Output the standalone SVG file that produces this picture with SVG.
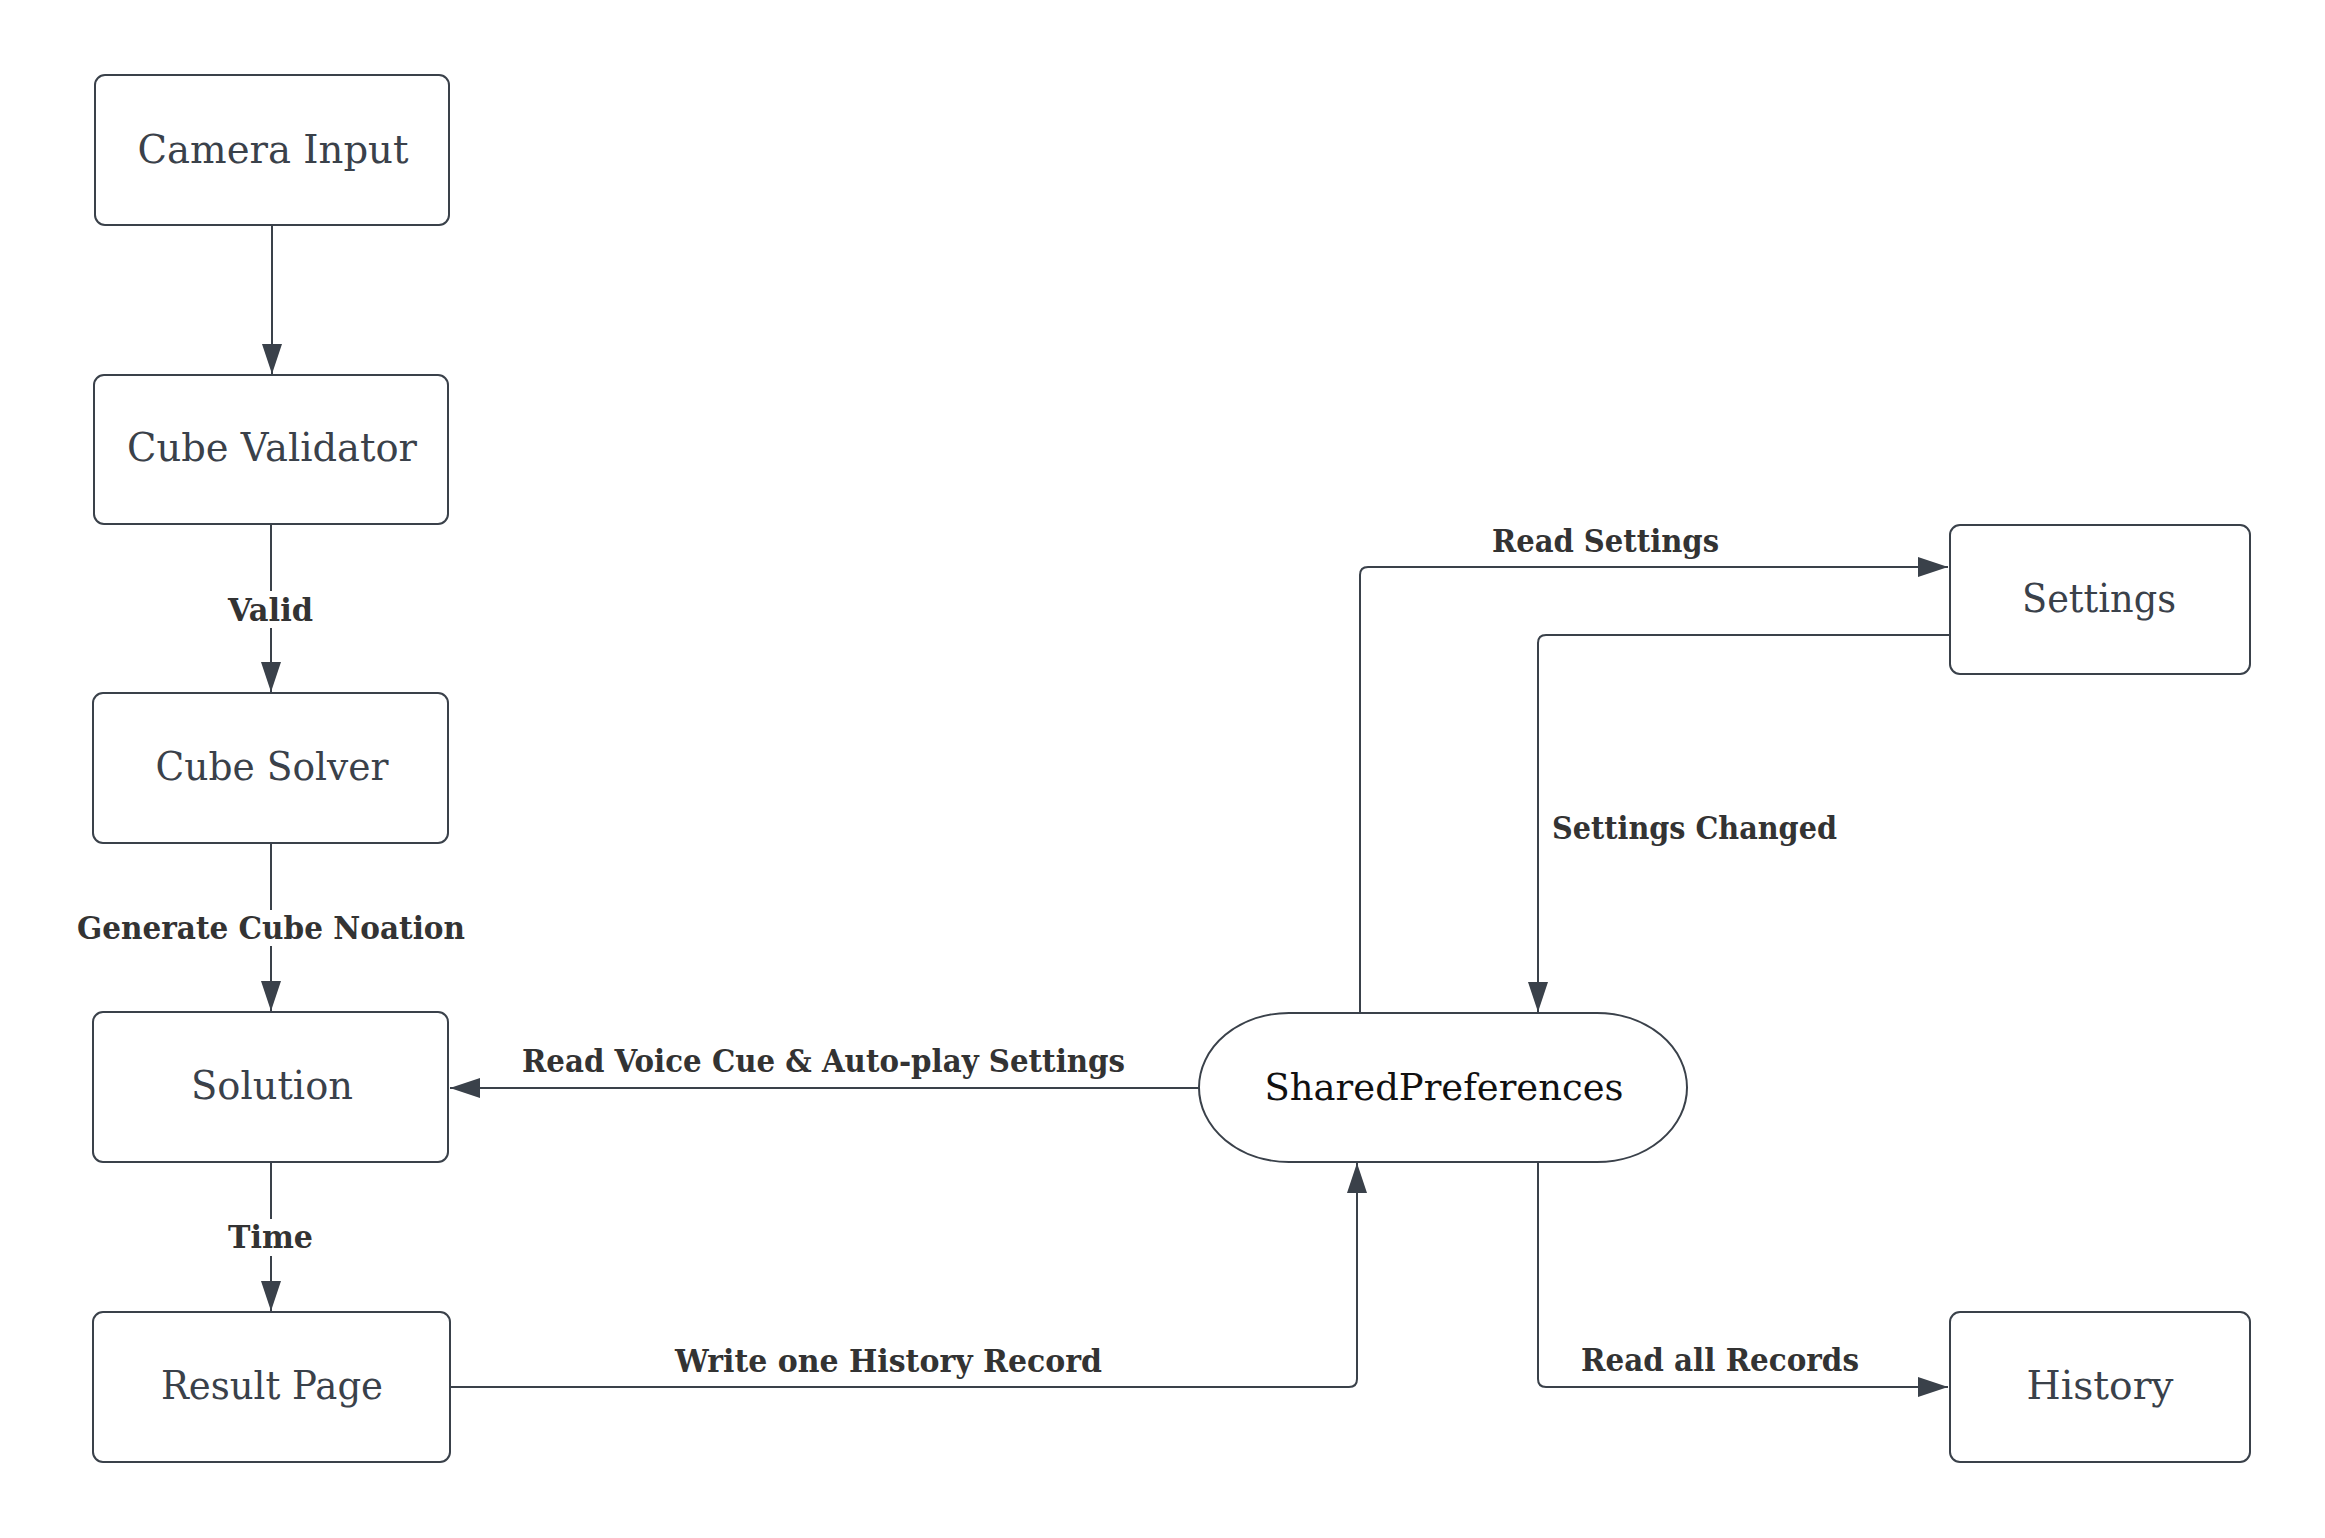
<svg xmlns="http://www.w3.org/2000/svg" width="2325" height="1538" viewBox="0 0 2325 1538">
<defs>
<marker id="arr" markerUnits="userSpaceOnUse" markerWidth="30" markerHeight="20" refX="30" refY="10" orient="auto">
<path d="M0,0 L30,10 L0,20 z" fill="#3a414a"/>
</marker>
<style>
.box{fill:#ffffff;stroke:#3a414a;stroke-width:2}
.nt{font-family:"DejaVu Serif","Liberation Serif",serif;font-size:40px;fill:#3a414a;text-anchor:middle}
.sp{font-family:"DejaVu Serif","Liberation Serif",serif;font-size:38px;fill:#111111;text-anchor:middle}
.ln{fill:none;stroke:#3a414a;stroke-width:2;marker-end:url(#arr)}
.lb{font-family:"DejaVu Serif","Liberation Serif",serif;font-size:31px;font-weight:bold;fill:#333333}
.bg{fill:#ffffff}
</style>
</defs>
<rect width="2325" height="1538" fill="#ffffff"/>
<g id="connectors">
<path class="ln" d="M272,225 V374"/>
<path class="ln" d="M271,524 V692"/>
<path class="ln" d="M271,843 V1011"/>
<path class="ln" d="M271,1162 V1311"/>
<path class="ln" d="M1200,1088 H450"/>
<path class="ln" d="M450,1387 H1349 Q1357,1387 1357,1379 V1163"/>
<path class="ln" d="M1360,1012 V575 Q1360,567 1368,567 H1948"/>
<path class="ln" d="M1950,635 H1546 Q1538,635 1538,643 V1012"/>
<path class="ln" d="M1538,1162 V1379 Q1538,1387 1546,1387 H1948"/>
<rect class="bg" x="224" y="591" width="94" height="37"/>
<text class="lb" x="228" y="621" textLength="85" lengthAdjust="spacingAndGlyphs">Valid</text>
<rect class="bg" x="74" y="910" width="394" height="36"/>
<text class="lb" x="77" y="939" textLength="388" lengthAdjust="spacingAndGlyphs">Generate Cube Noation</text>
<rect class="bg" x="224" y="1219" width="94" height="37"/>
<text class="lb" x="228" y="1248" textLength="85" lengthAdjust="spacingAndGlyphs">Time</text>
<text class="lb" x="522" y="1072" textLength="603" lengthAdjust="spacingAndGlyphs">Read Voice Cue &amp; Auto-play Settings</text>
<text class="lb" x="675" y="1372" textLength="427" lengthAdjust="spacingAndGlyphs">Write one History Record</text>
<text class="lb" x="1492" y="552" textLength="227" lengthAdjust="spacingAndGlyphs">Read Settings</text>
<text class="lb" x="1552" y="839" textLength="285" lengthAdjust="spacingAndGlyphs">Settings Changed</text>
<text class="lb" x="1581" y="1371" textLength="278" lengthAdjust="spacingAndGlyphs">Read all Records</text>
</g>
<g id="camera-input">
<rect class="box" x="95" y="75" width="354" height="150" rx="10"/>
<text class="nt" x="273" y="163" textLength="271" lengthAdjust="spacingAndGlyphs">Camera Input</text>
</g>
<g id="cube-validator">
<rect class="box" x="94" y="375" width="354" height="149" rx="10"/>
<text class="nt" x="272" y="461" textLength="290" lengthAdjust="spacingAndGlyphs">Cube Validator</text>
</g>
<g id="cube-solver">
<rect class="box" x="93" y="693" width="355" height="150" rx="10"/>
<text class="nt" x="272" y="780" textLength="233" lengthAdjust="spacingAndGlyphs">Cube Solver</text>
</g>
<g id="solution">
<rect class="box" x="93" y="1012" width="355" height="150" rx="10"/>
<text class="nt" x="272" y="1099" textLength="162" lengthAdjust="spacingAndGlyphs">Solution</text>
</g>
<g id="result-page">
<rect class="box" x="93" y="1312" width="357" height="150" rx="10"/>
<text class="nt" x="272" y="1399" textLength="222" lengthAdjust="spacingAndGlyphs">Result Page</text>
</g>
<g id="shared-preferences">
<rect class="box" x="1199" y="1013" width="488" height="149" rx="90" ry="74.5"/>
<text class="sp" x="1444" y="1100" textLength="359" lengthAdjust="spacingAndGlyphs">SharedPreferences</text>
</g>
<g id="settings">
<rect class="box" x="1950" y="525" width="300" height="149" rx="10"/>
<text class="nt" x="2099" y="612" textLength="154" lengthAdjust="spacingAndGlyphs">Settings</text>
</g>
<g id="history">
<rect class="box" x="1950" y="1312" width="300" height="150" rx="10"/>
<text class="nt" x="2100" y="1399" textLength="147" lengthAdjust="spacingAndGlyphs">History</text>
</g>
</svg>
